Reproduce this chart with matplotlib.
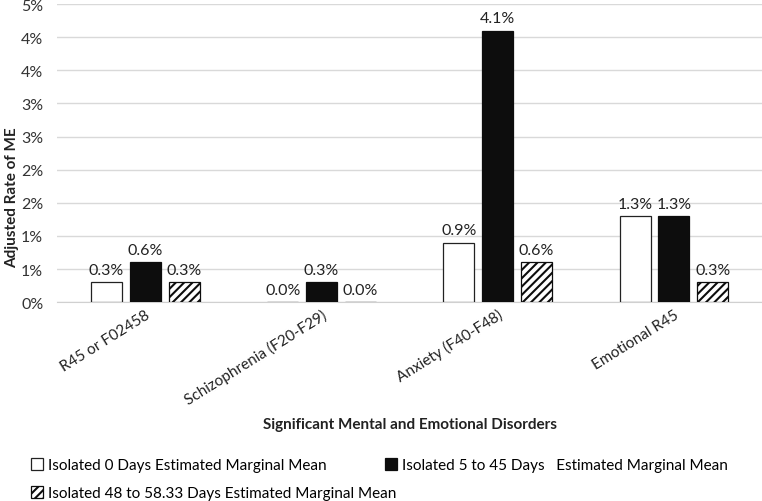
import matplotlib
matplotlib.use("Agg")
import matplotlib.pyplot as plt
import numpy as np

plt.rcParams['font.family'] = ['Lato', 'DejaVu Sans']
plt.rcParams['hatch.linewidth'] = 1.5

# data
categories = ['R45 or F02458', 'Schizophrenia (F20-F29)', 'Anxiety (F40-F48)', 'Emotional R45']
iso_0 = [0.3, 0.0, 0.9, 1.3]
iso_5_45 = [0.6, 0.3, 4.1, 1.3]
iso_48_58 = [0.3, 0.0, 0.6, 0.3]
series_names = ['Isolated 0 Days Estimated Marginal Mean',
                'Isolated 5 to 45 Days   Estimated Marginal Mean',
                'Isolated 48 to 58.33 Days Estimated Marginal Mean']
y_ticks = [0, 0.5, 1.0, 1.5, 2.0, 2.5, 3.0, 3.5, 4.0, 4.5]

fig = plt.figure(figsize=(7.62, 5.02), dpi=100)
ax = fig.add_axes([0.075, 0.396, 0.925, 0.594])

x = np.arange(len(categories))
w = 0.176
step = 0.22

b1 = ax.bar(x - step, iso_0, w, color='white', edgecolor='#222222', linewidth=0.9, zorder=3)
b2 = ax.bar(x, iso_5_45, w, color='#0d0d0d', edgecolor='#0d0d0d', linewidth=0.9, zorder=3)
b3 = ax.bar(x + step, iso_48_58, w, color='white', edgecolor='#0d0d0d', hatch='////', linewidth=0.9, zorder=3)

for bars in (b1, b2, b3):
    ax.bar_label(bars, fmt='%.1f%%', padding=4, fontsize=11.5, color='#222222')

ax.set_xlim(-0.5, 3.5)
ax.set_ylim(0, 4.5)
ax.set_yticks(y_ticks)
# Excel style rounding, half up
ax.set_yticklabels([f"{int(np.floor(v + 0.5))}%" for v in y_ticks], fontsize=11.5, color='#333333')
ax.grid(axis='y', color='#d9d9d9', linewidth=1, zorder=0)
ax.set_axisbelow(True)
for s in ['top', 'right', 'left']:
    ax.spines[s].set_visible(False)
ax.spines['bottom'].set_color('#d0d0d0')
ax.tick_params(length=0)
ax.tick_params(axis='y', pad=10)

ax.set_xticks(x)
ax.set_xticklabels(categories, rotation=32, ha='right', rotation_mode='anchor', fontsize=11, color='#222222')

fig.text(0.538, 0.153, 'Significant Mental and Emotional Disorders', ha='center', va='center',
         fontsize=11, fontweight='bold', color='#222222')
fig.text(0.016, 0.607, 'Adjusted Rate of ME', ha='center', va='center', rotation=90,
         fontsize=11, fontweight='bold', color='#222222')

# legend: one entry per spot, laid out like the original
legend_spots = [(31, 466), (385, 466), (31, 494)]
for bars, name, (px, py) in zip((b1, b2, b3), series_names, legend_spots):
    fig.legend([bars], [name], loc='center left', bbox_to_anchor=(px / 762, 1 - py / 502),
               frameon=False, fontsize=11, handlelength=0.8, handleheight=0.8, handletextpad=0.3,
               borderaxespad=0, borderpad=0)

fig.savefig('out.png', dpi=100)
